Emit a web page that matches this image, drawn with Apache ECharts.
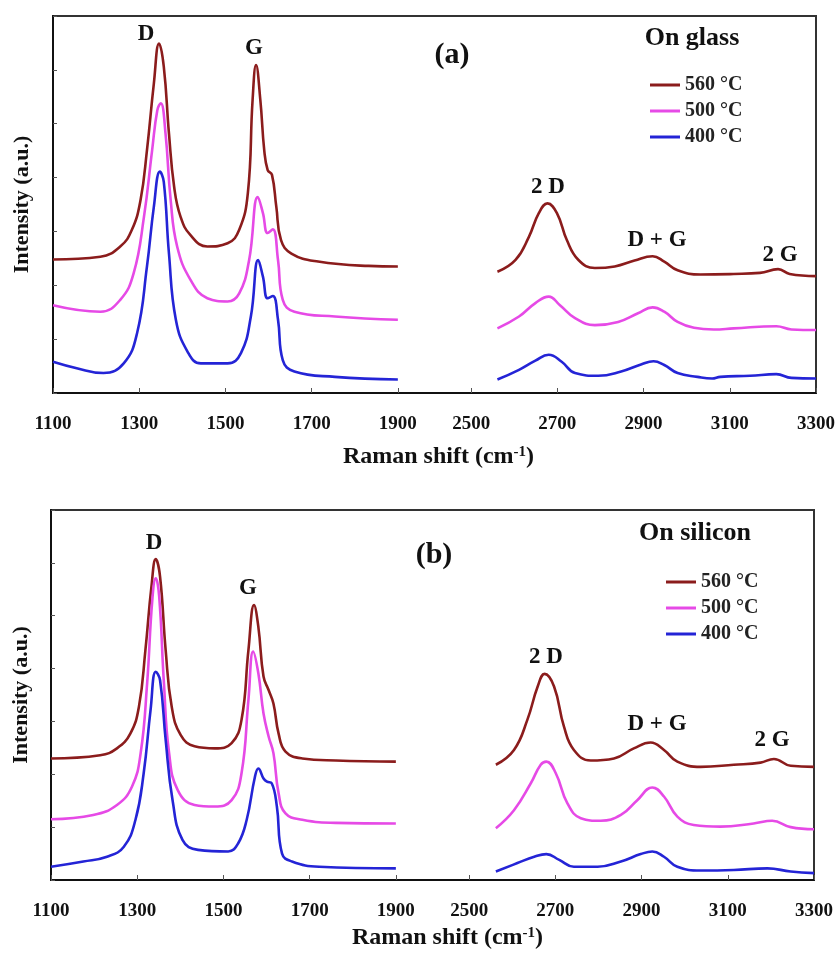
<!DOCTYPE html>
<html>
<head>
<meta charset="utf-8">
<title>Raman spectra</title>
<script src="https://cdn.jsdelivr.net/npm/echarts@6.0.0/dist/echarts.min.js"></script>
<style>
    html, body { margin: 0; padding: 0; background: #fff; }
    #main { width: 838px; height: 958px; }
</style>
</head>
<body>
<div id="main"></div>
<script>
var tickLabels = [1100, 1300, 1500, 1700, 1900, 2500, 2700, 2900, 3100, 3300];
var seriesNames = ['560 °C', '500 °C', '400 °C'];

// (a) on glass, [Raman shift, intensity]
var glass560Low = [[1100,2.48],[1210,2.53],[1256,2.72],[1283,3.03],[1303,3.58],[1318,4.51],[1334,5.75],[1346,6.49],[1357,6.06],[1369,4.82],[1381,3.83],[1396,3.27],[1419,2.93],[1458,2.72],[1505,2.78],[1532,3.03],[1552,3.71],[1563,5.44],[1571,6.09],[1581,5.44],[1590,4.51],[1598,4.14],[1608,4.05],[1618,3.46],[1629,2.84],[1653,2.59],[1715,2.44],[1832,2.36],[1900,2.35]];
var glass500Low = [[1100,1.63],[1210,1.51],[1256,1.73],[1287,2.22],[1311,3.27],[1330,4.51],[1342,5.25],[1350,5.38],[1361,4.82],[1373,3.58],[1388,2.72],[1419,2.10],[1458,1.76],[1505,1.70],[1532,1.85],[1555,2.47],[1575,3.64],[1587,3.34],[1598,2.97],[1610,3.04],[1622,2.47],[1633,1.73],[1660,1.51],[1754,1.42],[1900,1.36]];
var glass400Low = [[1100,0.58],[1155,0.46],[1217,0.37],[1264,0.55],[1295,1.11],[1318,2.35],[1334,3.46],[1348,4.11],[1357,3.92],[1369,2.59],[1385,1.36],[1412,0.77],[1443,0.55],[1505,0.55],[1536,0.74],[1559,1.42],[1576,2.47],[1587,2.16],[1598,1.76],[1610,1.80],[1622,1.36],[1633,0.61],[1660,0.40],[1754,0.30],[1900,0.25]];
var glass560High = [[2561,2.25],[2603,2.47],[2634,2.90],[2657,3.34],[2677,3.52],[2699,3.34],[2722,2.84],[2749,2.47],[2787,2.32],[2833,2.35],[2879,2.46],[2921,2.54],[2948,2.44],[2979,2.28],[3032,2.20],[3109,2.21],[3170,2.23],[3212,2.30],[3239,2.21],[3300,2.17]];
var glass500High = [[2561,1.20],[2611,1.42],[2649,1.67],[2680,1.79],[2706,1.63],[2741,1.39],[2787,1.26],[2841,1.32],[2887,1.48],[2921,1.59],[2948,1.51],[2979,1.32],[3017,1.21],[3063,1.18],[3109,1.20],[3208,1.24],[3243,1.18],[3300,1.17]];
var glass400High = [[2561,0.25],[2611,0.43],[2649,0.60],[2680,0.71],[2710,0.58],[2741,0.37],[2795,0.32],[2848,0.40],[2894,0.53],[2923,0.59],[2948,0.52],[2979,0.37],[3025,0.30],[3059,0.27],[3078,0.30],[3147,0.32],[3208,0.35],[3243,0.28],[3300,0.27]];

// (b) on silicon
var si560Low = [[1100,2.30],[1214,2.36],[1253,2.49],[1284,2.77],[1304,3.28],[1319,4.35],[1333,5.55],[1343,6.07],[1353,5.74],[1366,4.35],[1380,3.28],[1401,2.74],[1433,2.53],[1480,2.49],[1519,2.59],[1542,3.03],[1558,4.35],[1571,5.20],[1581,4.79],[1593,3.85],[1605,3.59],[1616,3.34],[1628,2.77],[1644,2.43],[1683,2.30],[1761,2.26],[1900,2.24]];
var si500Low = [[1100,1.15],[1198,1.23],[1253,1.42],[1288,1.77],[1308,2.40],[1323,3.72],[1335,5.30],[1343,5.71],[1351,5.36],[1362,3.72],[1374,2.40],[1394,1.70],[1433,1.42],[1480,1.39],[1519,1.51],[1542,2.02],[1558,3.41],[1569,4.32],[1581,3.91],[1593,3.15],[1605,2.71],[1616,2.40],[1628,1.64],[1644,1.26],[1683,1.14],[1761,1.08],[1900,1.07]];
var si400Low = [[1100,0.25],[1175,0.35],[1230,0.44],[1269,0.63],[1296,1.14],[1315,2.02],[1331,3.22],[1343,3.94],[1353,3.78],[1366,2.65],[1382,1.51],[1405,0.76],[1441,0.57],[1511,0.54],[1534,0.69],[1554,1.14],[1573,1.95],[1581,2.11],[1593,1.92],[1601,1.86],[1612,1.83],[1624,1.39],[1636,0.50],[1659,0.35],[1722,0.25],[1900,0.22]];
var si560High = [[2562,2.18],[2604,2.46],[2635,3.03],[2659,3.66],[2675,3.90],[2697,3.66],[2720,2.90],[2743,2.46],[2782,2.26],[2836,2.30],[2882,2.49],[2921,2.60],[2952,2.46],[2983,2.24],[3037,2.14],[3114,2.18],[3176,2.22],[3207,2.29],[3246,2.16],[3300,2.14]];
var si500High = [[2562,0.98],[2604,1.32],[2643,1.83],[2666,2.18],[2679,2.24],[2701,2.02],[2728,1.45],[2759,1.17],[2805,1.12],[2852,1.23],[2890,1.51],[2925,1.75],[2952,1.58],[2983,1.20],[3021,1.04],[3083,1.01],[3160,1.07],[3203,1.12],[3246,1.00],[3300,0.96]];
var si400High = [[2562,0.16],[2612,0.32],[2651,0.44],[2679,0.49],[2709,0.38],[2743,0.25],[2798,0.25],[2852,0.35],[2898,0.49],[2925,0.54],[2952,0.44],[2983,0.25],[3037,0.18],[3114,0.19],[3192,0.22],[3246,0.16],[3300,0.13]];

var lineColors = ['#8b1c1c', '#e64ae6', '#2424d6'];
var serif = "'Liberation Serif', 'Times New Roman', serif";

// broken x axis: the 1900..2500 stretch is squeezed into a short gap
var BREAK_FROM = 1900, BREAK_TO = 2500, BREAK_GAP = 170;
var SHIFT = BREAK_TO - BREAK_FROM - BREAK_GAP;
function toAxis(v) { return v > (BREAK_FROM + BREAK_TO) / 2 ? v - SHIFT : v; }
function fromAxis(a) { return a > BREAK_FROM + BREAK_GAP / 2 ? a + SHIFT : a; }
var tickPos = tickLabels.map(toAxis);

var chart = echarts.init(document.getElementById('main'));

function mapPts(pts) {
    return pts.map(function (p) { return [toAxis(p[0]), p[1]]; });
}

function panelSeries(idx, groups) {
    var out = [];
    for (var i = 0; i < groups.length; i++) {
        for (var j = 0; j < groups[i].length; j++) {
            out.push({
                name: seriesNames[i],
                type: 'line',
                xAxisIndex: idx,
                yAxisIndex: idx,
                data: mapPts(groups[i][j]),
                showSymbol: false,
                smooth: 0.45,
                lineStyle: { width: 2.6, color: lineColors[i] },
                itemStyle: { color: lineColors[i] },
                silent: true
            });
        }
    }
    return out;
}

function xAxisFor(idx, gap, shiftName) {
    return {
        type: 'value',
        gridIndex: idx,
        min: toAxis(1100),
        max: toAxis(3300),
        name: 'Raman shift (cm{sup|-1})',
        nameLocation: 'middle',
        nameGap: gap,
        nameTextStyle: {
            fontFamily: serif, fontWeight: 'bold', fontSize: 24, color: '#111',
            padding: [0, 0, 0, shiftName],
            rich: { sup: { fontFamily: serif, fontWeight: 'bold', fontSize: 15, verticalAlign: 'top', color: '#111' } }
        },
        axisLine: { lineStyle: { color: '#111', width: 2 } },
        axisTick: { inside: true, length: 5, customValues: tickPos, lineStyle: { color: '#555', width: 1 } },
        axisLabel: {
            customValues: tickPos,
            margin: 22,
            fontFamily: serif, fontWeight: 'bold', fontSize: 19, color: '#111',
            formatter: function (v) { return String(fromAxis(Math.round(v))); }
        },
        splitLine: { show: false }
    };
}

function yAxisFor(idx, gap) {
    return {
        type: 'value',
        gridIndex: idx,
        min: 0,
        max: 7,
        interval: 1,
        name: 'Intensity (a.u.)',
        nameLocation: 'middle',
        nameGap: gap,
        nameRotate: 90,
        nameTextStyle: { fontFamily: serif, fontWeight: 'bold', fontSize: 22, color: '#111' },
        axisLine: { show: true, lineStyle: { color: '#111', width: 2 } },
        axisTick: { inside: true, length: 4, lineStyle: { color: '#555', width: 1 } },
        axisLabel: { show: false },
        splitLine: { show: false }
    };
}

function legendFor(left, top) {
    return {
        data: seriesNames,
        orient: 'vertical',
        left: left,
        top: top,
        icon: 'rect',
        itemWidth: 30,
        itemHeight: 3,
        itemGap: 6,
        selectedMode: false,
        textStyle: { fontFamily: serif, fontWeight: 'bold', fontSize: 20, lineHeight: 20, color: '#222' }
    };
}

var notes = [
    ['D', 146, 34, 23], ['G', 254, 48, 23], ['(a)', 452, 55, 30], ['On glass', 692, 38, 26],
    ['2 D', 548, 187, 23], ['D + G', 657, 240, 23], ['2 G', 780, 255, 23],
    ['D', 154, 543, 23], ['G', 248, 588, 23], ['(b)', 434, 555, 30], ['On silicon', 695, 533, 26],
    ['2 D', 546, 657, 23], ['D + G', 657, 724, 23], ['2 G', 772, 740, 23]
];
var graphics = notes.map(function (n) {
    return {
        type: 'text',
        x: n[1],
        y: n[2],
        silent: true,
        style: {
            text: n[0],
            fill: '#111',
            font: 'bold ' + n[3] + 'px ' + serif,
            align: 'center',
            verticalAlign: 'middle'
        }
    };
});

var option = {
    backgroundColor: '#fff',
    animation: false,
    grid: [
        { left: 53, right: 20, top: 16, height: 377, show: true, borderColor: '#333', borderWidth: 2 },
        { left: 51, right: 24, top: 510, height: 370, show: true, borderColor: '#333', borderWidth: 2 }
    ],
    xAxis: [xAxisFor(0, 52, 8), xAxisFor(1, 46, 30)],
    yAxis: [yAxisFor(0, 20), yAxisFor(1, 19)],
    legend: [legendFor(645, 70), legendFor(661, 567)],
    graphic: graphics,
    series: [].concat(
        panelSeries(0, [[glass560Low, glass560High], [glass500Low, glass500High], [glass400Low, glass400High]]),
        panelSeries(1, [[si560Low, si560High], [si500Low, si500High], [si400Low, si400High]])
    )
};

chart.setOption(option);
</script>
</body>
</html>
